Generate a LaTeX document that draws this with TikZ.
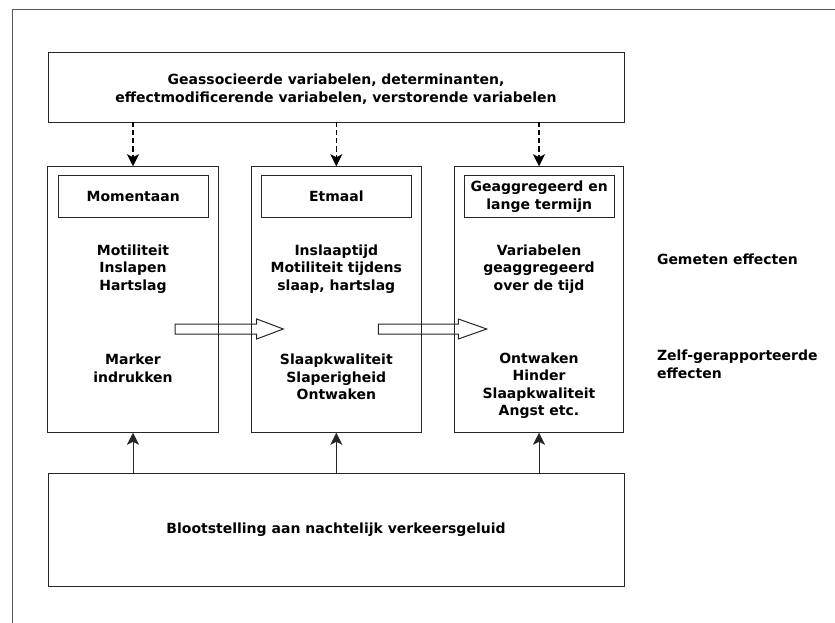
\documentclass[tikz,border=0pt]{standalone}
\usepackage{fontspec}
\setmainfont{DejaVu Sans}
\usetikzlibrary{arrows.meta}
\begin{document}
\begin{tikzpicture}[x=1pt,y=-1pt,
  every node/.style={inner sep=0pt, outer sep=0pt},
  boxline/.style={draw=black!85, line width=1pt},
  frameline/.style={draw=black!65, line width=1pt},
  txt/.style={font=\fontsize{14}{17.5}\selectfont\bfseries, align=center, text=black},
  ltxt/.style={font=\fontsize{14}{17.5}\selectfont\bfseries, align=left, text=black, anchor=west},
  dasharrow/.style={draw=black, line width=1.2pt, dash pattern=on 5pt off 3pt,
     -{Stealth[length=12pt,width=12pt,inset=3pt]}},
  solidarrow/.style={draw=black!85, line width=1pt,
     -{Stealth[length=12pt,width=12pt,inset=3pt]}},
  blockarrow/.style={draw=black!85, line width=1pt, fill=white, line join=miter}
]
\useasboundingbox (0,0) rectangle (835,623);
% outer frame (only left and top edges visible)
\draw[frameline] (12.5,623) -- (12.5,9.5) -- (835,9.5);

% block arrows (drawn first, box lines go over them)
\draw[blockarrow] (175,324) -- (256.7,324) -- (256.7,319) -- (283.3,329) -- (256.7,339) -- (256.7,334) -- (175,334) -- cycle;
\draw[blockarrow] (378.3,324) -- (458.3,324) -- (458.3,319) -- (486.7,329) -- (458.3,339) -- (458.3,334) -- (378.3,334) -- cycle;

% top box
\node[boxline, minimum width=576pt, minimum height=70pt] (top) at (336,87.5) {};
\node[txt] (toptxt) at (336,89) {Geassocieerde variabelen, determinanten,\\effectmodificerende variabelen, verstorende variabelen};

% columns
\node[boxline, minimum width=170.5pt, minimum height=266.5pt] (c1) at (133,299.5) {};
\node[boxline, minimum width=169.5pt, minimum height=266.5pt] (c2) at (336.3,299.5) {};
\node[boxline, minimum width=169.5pt, minimum height=266.5pt] (c3) at (539,299.5) {};

% inner header boxes
\node[boxline, minimum width=150pt, minimum height=42.5pt] (h1) at (133.2,196.5) {};
\node[boxline, minimum width=150.5pt, minimum height=42.5pt] (h2) at (336.4,196.5) {};
\node[boxline, minimum width=149.7pt, minimum height=42.5pt] (h3) at (539.2,196.5) {};
\node[txt] (h1t) at (h1) {Momentaan};
\node[txt] (h2t) at (h2) {Etmaal};
\node[txt] (h3t) at (h3) {Geaggregeerd en\\lange termijn};

% column texts
\node[txt] (m1) at (133,269) {Motiliteit\\Inslapen\\Hartslag};
\node[txt] (s1) at (133,368.5) {Marker\\indrukken};
\node[txt] (m2) at (336.3,269) {Inslaaptijd\\Motiliteit tijdens\\slaap, hartslag};
\node[txt] (s2) at (336.3,377) {Slaapkwaliteit\\Slaperigheid\\Ontwaken};
\node[txt] (m3) at (539,269) {Variabelen\\geaggregeerd\\over de tijd};
\node[txt] (s3) at (539,385.5) {Ontwaken\\Hinder\\Slaapkwaliteit\\Angst etc.};

% right labels
\node[ltxt] (gem) at (657,259) {Gemeten effecten};
\node[ltxt] (zelf) at (657,364.5) {Zelf-gerapporteerde\\effecten};

% bottom box
\node[boxline, minimum width=576pt, minimum height=113pt] (bot) at (336,529.5) {};
\node[txt] (bott) at (bot) {Blootstelling aan nachtelijk verkeersgeluid};

% dashed arrows
\draw[dasharrow] (top.south -| c1.north) -- (c1.north);
\draw[dasharrow] (top.south -| c2.north) -- (c2.north);
\draw[dasharrow] (top.south -| c3.north) -- (c3.north);

% solid arrows
\draw[solidarrow] (bot.north -| c1.south) -- (c1.south);
\draw[solidarrow] (bot.north -| c2.south) -- (c2.south);
\draw[solidarrow] (bot.north -| c3.south) -- (c3.south);
\end{tikzpicture}
\end{document}
